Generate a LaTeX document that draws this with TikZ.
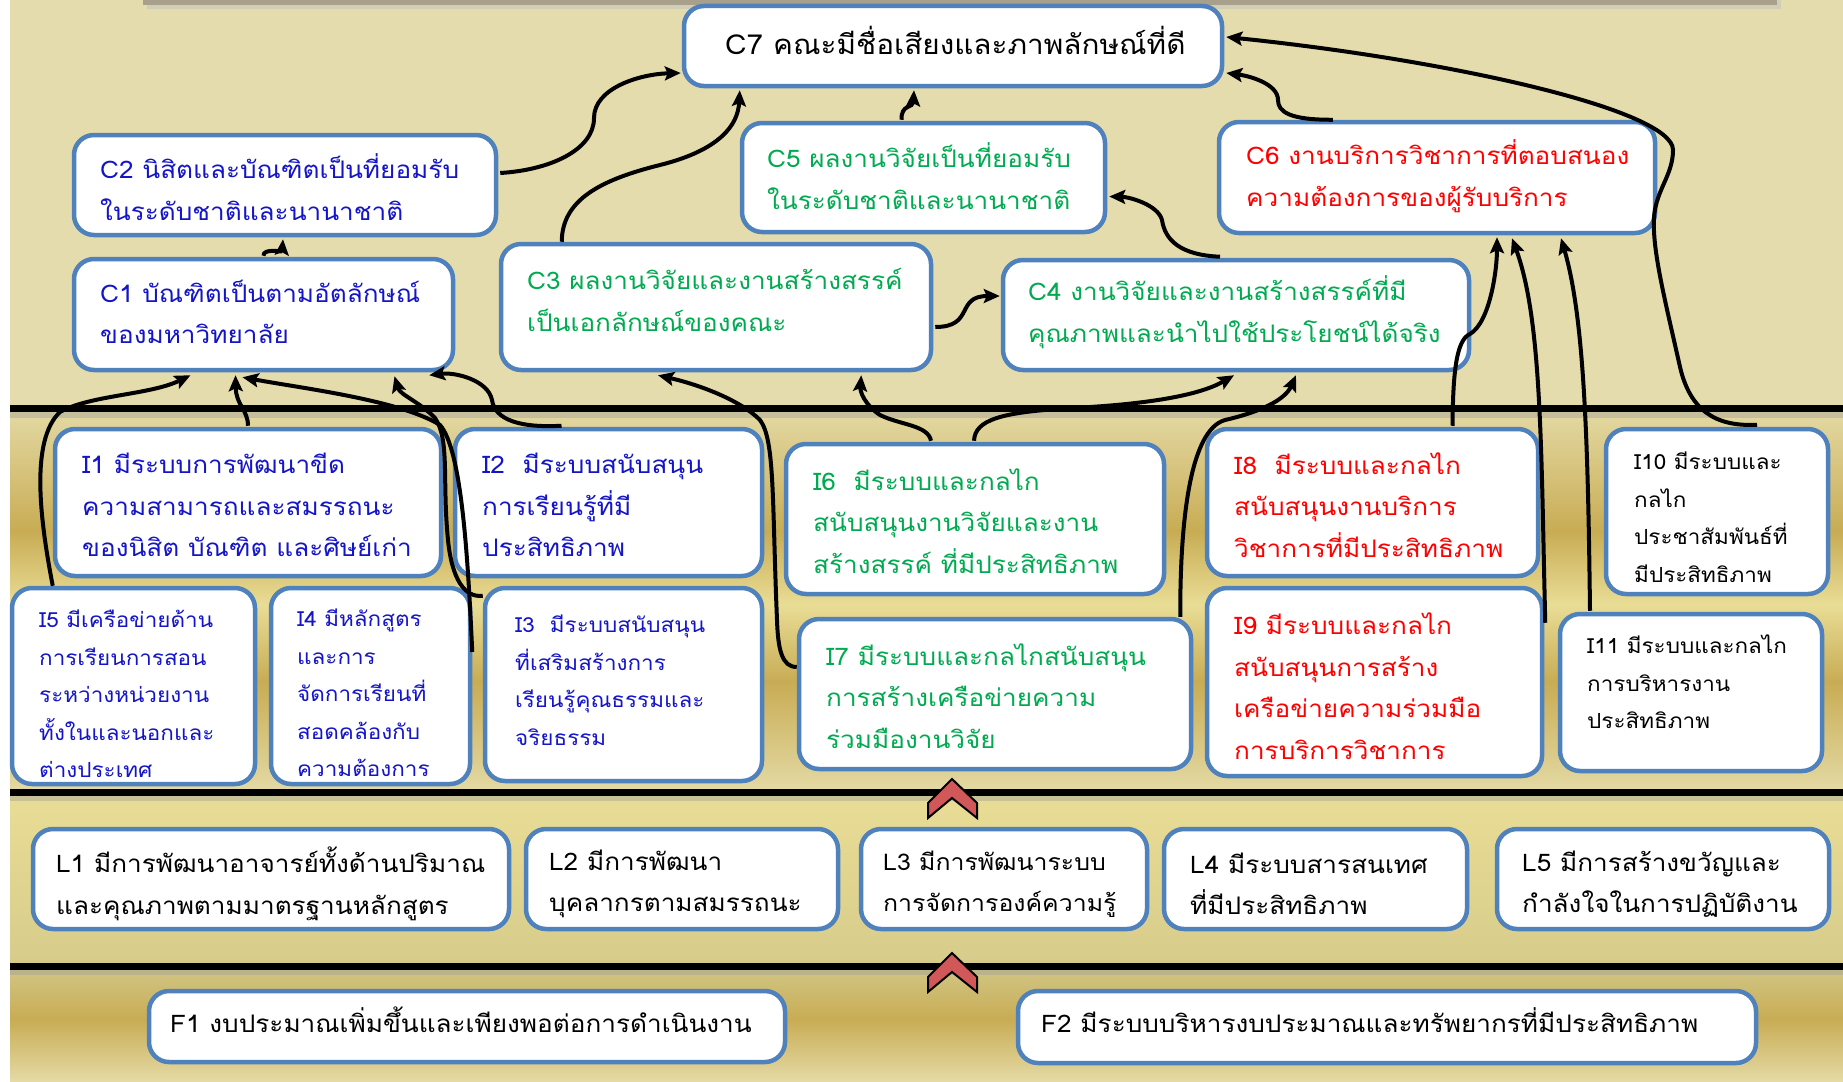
\documentclass[tikz,border=0pt]{standalone}
\usepackage{fontspec}
\setmainfont{Loma}[Script=Thai, FakeStretch=1.08]
\usetikzlibrary{calc,arrows.meta}
\definecolor{bgtop}{RGB}{229,220,173}
\definecolor{goldD}{RGB}{200,172,84}
\definecolor{goldL}{RGB}{233,221,150}
\definecolor{paleL}{RGB}{228,218,165}
\definecolor{boxblue}{RGB}{79,129,189}
\definecolor{tblue}{RGB}{20,20,200}
\definecolor{tgreen}{RGB}{0,170,80}
\definecolor{tred}{RGB}{255,0,0}
\definecolor{chev}{RGB}{208,88,88}
\definecolor{topbar}{RGB}{168,160,138}
\newcommand\mkbox[5]{\node[boxst, minimum width={#4-#2}, minimum height={#5-#3}] (#1) at ({(#2+#4)/2},{(#3+#5)/2}) {};}
\newcommand\fbig{\fontsize{24.2}{41.5}\selectfont}
\newcommand\fmid{\fontsize{23}{41.5}\selectfont}
\newcommand\fsml{\fontsize{20.8}{37.5}\selectfont}
\newcommand\fhuge{\fontsize{27.5}{41.5}\selectfont}
\tikzset{
  boxst/.style={draw=boxblue, line width=4.5pt, rounded corners=20pt, fill=white, inner sep=0pt},
  txt/.style={anchor=west, align=left, inner sep=0pt},
  arr/.style={draw=black, line width=4pt, -{Stealth[length=16pt,width=14pt,inset=3pt]}},
  hline/.style={line width=7pt, black},
}
\begin{document}
\begin{tikzpicture}[x=1pt,y=-1pt]
\useasboundingbox (0,0) rectangle (1843,1081);
% backgrounds
\fill[white] (0,0) rectangle (1843,1081);
\fill[bgtop] (10,0) rectangle (1843,408);
\shade[top color=paleL, bottom color=goldD] (10,408) rectangle (1843,532);
\shade[top color=goldD, bottom color=goldL] (10,531) rectangle (1843,605);
\shade[top color=goldL, bottom color=goldD] (10,604) rectangle (1843,682);
\shade[top color=goldD, bottom color=paleL] (10,681) rectangle (1843,792);
\shade[top color=goldL, bottom color=goldL!92!black] (10,792) rectangle (1843,966);
\shade[top color=goldL!90!black, bottom color=goldD] (10,966) rectangle (1843,1020);
\shade[top color=goldD, bottom color=paleL] (10,1019) rectangle (1843,1081);
% top bar
\fill[black!25, opacity=0.5] (147,0) rectangle (1781,9);
\fill[topbar] (143,0) rectangle (1777,5);
% horizontal lines
\fill[black!40, opacity=0.4] (10,411) rectangle (1843,418);
\fill[black!40, opacity=0.4] (10,795) rectangle (1843,801);
\fill[black!40, opacity=0.4] (10,969) rectangle (1843,975);
\draw[hline] (10,408) -- (1843,408);
\draw[hline] (10,792) -- (1843,792);
\draw[hline] (10,966) -- (1843,966);
% chevrons
\filldraw[fill=chev, draw=black, line width=2pt, line join=miter]
  (928,803) -- (952,779) -- (977,803) -- (977,818) -- (952,798) -- (928,818) -- cycle;
\filldraw[fill=chev, draw=black, line width=2pt, line join=miter]
  (928,977) -- (952,953) -- (977,977) -- (977,992) -- (952,972) -- (928,992) -- cycle;
% boxes
\mkbox{C7}{684}{6}{1222}{86}
\mkbox{C2}{74}{135}{496}{235}
\mkbox{C1}{74}{259}{453}{370}
\mkbox{C3}{501}{244}{931}{370}
\mkbox{C5}{742}{123}{1105}{232}
\mkbox{C4}{1003}{260}{1469}{370}
\mkbox{C6}{1219}{122}{1655}{233}
\mkbox{I1}{55}{429}{441}{576}
\mkbox{I2}{455}{429}{762}{576}
\mkbox{I6}{786}{444}{1164}{594}
\mkbox{I8}{1207}{429}{1538}{576}
\mkbox{I10}{1606}{429}{1828}{594}
\mkbox{I5}{12}{588}{255}{784}
\mkbox{I4}{271}{588}{470}{784}
\mkbox{I3}{485}{588}{762}{781}
\mkbox{I7}{799}{619}{1191}{769}
\mkbox{I9}{1207}{588}{1542}{776}
\mkbox{I11}{1560}{614}{1822}{771}
\mkbox{L1}{33}{829}{509}{929}
\mkbox{L2}{526}{829}{838}{929}
\mkbox{L3}{861}{829}{1147}{929}
\mkbox{L4}{1164}{829}{1467}{929}
\mkbox{L5}{1497}{829}{1829}{929}
\mkbox{F1}{149}{991}{785}{1062}
\mkbox{F2}{1018}{991}{1756}{1063}
% texts
\node[txt, font=\fhuge, text=black] (tC7) at (725,40) {C7 คณะมีชื่อเสียงและภาพลักษณ์ที่ดี};
\node[txt, font=\fbig, text=tblue] (tC2) at (100,187) {C2 นิสิตและบัณฑิตเป็นที่ยอมรับ\\ในระดับชาติและนานาชาติ};
\node[txt, font=\fbig, text=tblue] (tC1) at (100,312) {C1 บัณฑิตเป็นตามอัตลักษณ์\\ของมหาวิทยาลัย};
\node[txt, font=\fbig, text=tgreen] (tC3) at (527,300) {C3 ผลงานวิจัยและงานสร้างสรรค์\\เป็นเอกลักษณ์ของคณะ};
\node[txt, font=\fbig, text=tgreen] (tC5) at (767,176) {C5 ผลงานวิจัยเป็นที่ยอมรับ\\ในระดับชาติและนานาชาติ};
\node[txt, font=\fbig, text=tgreen] (tC4) at (1028,312) {C4 งานวิจัยและงานสร้างสรรค์ที่มี\\คุณภาพและนำไปใช้ประโยชน์ได้จริง};
\node[txt, font=\fbig, text=tred] (tC6) at (1246,176) {C6 งานบริการวิชาการที่ตอบสนอง\\ความต้องการของผู้รับบริการ};
\node[txt, font=\fbig, text=tblue] (tI1) at (82,505) {I1 มีระบบการพัฒนาขีด\\ความสามารถและสมรรถนะ\\ของนิสิต บัณฑิต และศิษย์เก่า};
\node[txt, font=\fbig, text=tblue] (tI2) at (482,505) {I2\ \ มีระบบสนับสนุน\\การเรียนรู้ที่มี\\ประสิทธิภาพ};
\node[txt, font=\fbig, text=tgreen] (tI6) at (813,521) {I6\ \ มีระบบและกลไก\\สนับสนุนงานวิจัยและงาน\\สร้างสรรค์ ที่มีประสิทธิภาพ};
\node[txt, font=\fbig, text=tred] (tI8) at (1234,505) {I8\ \ มีระบบและกลไก\\สนับสนุนงานบริการ\\วิชาการที่มีประสิทธิภาพ};
\node[txt, font=\fsml, text=black] (tI10) at (1634,517) {I10 มีระบบและ\\กลไก\\ประชาสัมพันธ์ที่\\มีประสิทธิภาพ};
\node[txt, font=\fsml, text=tblue] (tI5) at (39,694) {I5 มีเครือข่ายด้าน\\การเรียนการสอน\\ระหว่างหน่วยงาน\\ทั้งในและนอกและ\\ต่างประเทศ};
\node[txt, font=\fsml, text=tblue] (tI4) at (297,693) {I4 มีหลักสูตร\\และการ\\จัดการเรียนที่\\สอดคล้องกับ\\ความต้องการ};
\node[txt, font=\fsml, text=tblue] (tI3) at (515,680) {I3\ \ มีระบบสนับสนุน\\ที่เสริมสร้างการ\\เรียนรู้คุณธรรมและ\\จริยธรรม};
\node[txt, font=\fbig, text=tgreen] (tI7) at (826,696) {I7 มีระบบและกลไกสนับสนุน\\การสร้างเครือข่ายความ\\ร่วมมืองานวิจัย};
\node[txt, font=\fbig, text=tred] (tI9) at (1234,686) {I9 มีระบบและกลไก\\สนับสนุนการสร้าง\\เครือข่ายความร่วมมือ\\การบริการวิชาการ};
\node[txt, font=\fsml, text=black] (tI11) at (1587,682) {I11 มีระบบและกลไก\\การบริหารงาน\\ประสิทธิภาพ};
\node[txt, font=\fbig, text=black] (tL1) at (56,884) {L1 มีการพัฒนาอาจารย์ทั้งด้านปริมาณ\\และคุณภาพตามมาตรฐานหลักสูตร};
\node[txt, font=\fbig, text=black] (tL2) at (549,884) {L2 มีการพัฒนา\\บุคลากรตามสมรรถนะ};
\node[txt, font=\fmid, text=black] (tL3) at (883,884) {L3 มีการพัฒนาระบบ\\การจัดการองค์ความรู้};
\node[txt, font=\fbig, text=black] (tL4) at (1190,884) {L4 มีระบบสารสนเทศ\\ที่มีประสิทธิภาพ};
\node[txt, font=\fbig, text=black] (tL5) at (1522,884) {L5 มีการสร้างขวัญและ\\กำลังใจในการปฏิบัติงาน};
\node[txt, font=\fbig, text=black] (tF1) at (170,1020) {F1 งบประมาณเพิ่มขึ้นและเพียงพอต่อการดำเนินงาน};
\node[txt, font=\fbig, text=black] (tF2) at (1041,1020) {F2 มีระบบบริหารงบประมาณและทรัพยากรที่มีประสิทธิภาพ};
% connectors
\draw[arr] ($(C2.east)+(2,-12)$) .. controls (550,170) and (594,150) .. (594,118) .. controls (594,88) and (640,74) .. ($(C7.west)+(-1,27)$);
\draw[arr] ($(C3.north west)+(63,0)$) .. controls (562,200) and (600,180) .. (660,165) .. controls (720,150) and (738,125) .. ($(C7.south west)+(58,2)$);
\draw[arr] ($(C5.north)+(-22,-1)$) .. controls (901,104) and (913,108) .. ($(C7.south)+(-39,2)$);
\draw[arr] ($(C6.north west)+(116,0)$) .. controls (1290,120) and (1278,112) .. (1278,100) .. controls (1278,84) and (1250,76) .. ($(C7.east)+(2,27)$);
\draw[arr] ($(I10.north)+(40,-2)$) .. controls (1715,427) and (1690,410) .. (1680,367) .. controls (1665,300) and (1652,250) .. (1654,217) .. controls (1656,190) and (1673,175) .. (1673,150) .. controls (1673,110) and (1450,60) .. ($(C7.east)+(2,-9)$);
\draw[arr] ($(C1.north)+(0,-1)$) .. controls (263,248) and (282,252) .. ($(C2.south)+(-2,2)$);
\draw[arr] ($(C3.east)+(2,20)$) .. controls (975,327) and (955,296) .. ($(C4.west)+(-1,-19)$);
\draw[arr] ($(C4.north)+(-16,-1)$) .. controls (1180,255) and (1165,240) .. (1162,220) .. controls (1158,205) and (1130,197) .. ($(C5.east)+(2,19)$);
\draw[arr] ($(I8.north)+(80,-1)$) .. controls (1453,380) and (1455,340) .. (1470,334) .. controls (1490,322) and (1497,270) .. ($(C6.south)+(60,2)$);
\draw[arr] ($(I9.north east)+(1,37)$) .. controls (1541,450) and (1542,320) .. ($(C6.south)+(75,3)$);
\draw[arr] ($(I11.north)+(-101,-1)$) .. controls (1588,450) and (1585,320) .. ($(C6.south)+(124,3)$);
\draw[arr] ($(I1.north)+(0,-1)$) .. controls (248,410) and (236,405) .. ($(C1.south)+(-28,3)$);
\draw[arr] ($(I5.north west)+(43,0)$) .. controls (40,520) and (30,440) .. (60,412) .. controls (90,395) and (150,395) .. ($(C1.south)+(-73,3)$);
\draw[arr] ($(I4.east)+(0,-34)$) .. controls (468,560) and (462,450) .. (440,425) .. controls (400,400) and (300,388) .. ($(C1.south)+(-21,5)$);
\draw[arr] ($(I3.north west)+(0,10)$) .. controls (465,598) and (452,580) .. (448,540) .. controls (442,480) and (450,440) .. (435,418) .. controls (420,402) and (400,395) .. ($(C1.south)+(131,4)$);
\draw[arr] ($(I2.north)+(-47,-1)$) .. controls (520,428) and (495,420) .. (492,400) .. controls (488,380) and (455,372) .. ($(C1.south east)+(-26,3)$);
\draw[arr] ($(I7.west)+(0,-27)$) .. controls (782,667) and (778,650) .. (777,620) .. controls (772,500) and (775,440) .. (760,420) .. controls (740,400) and (700,385) .. ($(C3.south)+(-58,3)$);
\draw[arr] ($(I6.north)+(-44,-1)$) .. controls (928,425) and (900,425) .. (880,415) .. controls (865,405) and (860,392) .. ($(C3.south east)+(-72,3)$);
\draw[arr] ($(I6.north)+(-1,-1)$) .. controls (975,420) and (1000,412) .. (1073,408) .. controls (1150,404) and (1200,395) .. ($(C4.south)+(-2,3)$);
\draw[arr] ($(I7.north east)+(-13,0)$) .. controls (1180,520) and (1190,430) .. (1225,420) .. controls (1260,412) and (1285,400) .. ($(C4.south)+(60,3)$);
\end{tikzpicture}
\end{document}
